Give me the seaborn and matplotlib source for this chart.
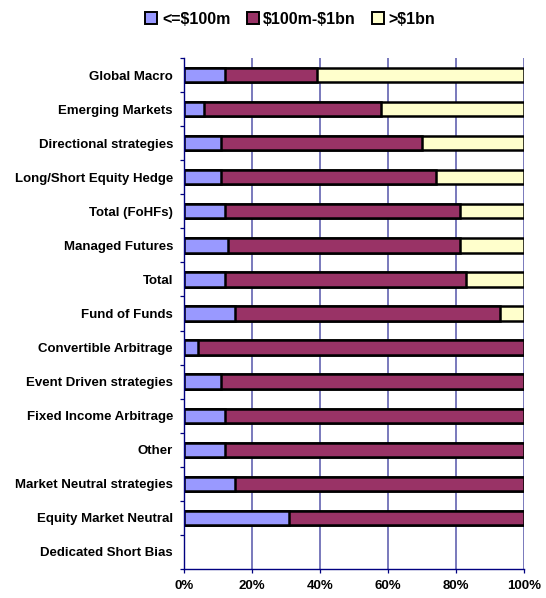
import numpy as np
import pandas as pd
import matplotlib
matplotlib.use("Agg")
import matplotlib.pyplot as plt
from matplotlib.patches import Patch
import seaborn as sns

categories = [
    "Global Macro", "Emerging Markets", "Directional strategies",
    "Long/Short Equity Hedge", "Total (FoHFs)", "Managed Futures", "Total",
    "Fund of Funds", "Convertible Arbitrage", "Event Driven strategies",
    "Fixed Income Arbitrage", "Other", "Market Neutral strategies",
    "Equity Market Neutral", "Dedicated Short Bias",
]
small = [12, 6, 11, 11, 12, 13, 12, 15, 4, 11, 12, 12, 15, 31, None]
mid = [27, 52, 59, 63, 69, 68, 71, 78, 96, 89, 88, 88, 85, 69, None]
large = [61, 42, 30, 26, 19, 19, 17, 7, 0, 0, 0, 0, 0, 0, None]
series_names = ["<=$100m", "$100m-$1bn", ">$1bn"]
colors = ["#9999FF", "#993366", "#FFFFCC"]
xticks = [0, 20, 40, 60, 80, 100]

df = pd.DataFrame({"category": categories, "small": small, "mid": mid, "large": large})
df = df.dropna().copy()
df["c1"] = df["small"]
df["c2"] = df["small"] + df["mid"]
df["c3"] = df["small"] + df["mid"] + df["large"]

sns.set_theme(style="white")
plt.rcParams["font.family"] = ["Liberation Sans", "DejaVu Sans"]
plt.rcParams["font.weight"] = "bold"
plt.rcParams["text.parse_math"] = False
plt.rcParams["text.color"] = "black"
plt.rcParams["xtick.labelcolor"] = "black"
plt.rcParams["ytick.labelcolor"] = "black"

fig = plt.figure(figsize=(5.46, 5.98), dpi=100)
ax = fig.add_axes([0.337, 0.0485, 0.623, 0.8545])

grid_col = "#5555AA"
axis_col = "#000080"
for x in xticks[1:]:
    ax.axvline(x, color=grid_col, lw=1.1, zorder=0)

bar_kw = dict(orient="h", order=categories, width=0.42, edgecolor="black",
              linewidth=1.8, ax=ax, zorder=2)
sns.barplot(data=df, x="c3", y="category", color=colors[2], **bar_kw)
sns.barplot(data=df, x="c2", y="category", color=colors[1], **bar_kw)
sns.barplot(data=df, x="c1", y="category", color=colors[0], **bar_kw)

# seaborn may desaturate; force exact fills
n = len(df)
for i, p in enumerate(ax.patches):
    p.set_facecolor(colors[2 - i // n])

ax.set_xlim(0, 100)
ax.set_ylim(len(categories) - 0.5, -0.5)
ax.set_xticks(xticks)
ax.set_xticklabels([f"{v}%" for v in xticks], fontsize=9.5, fontweight="bold")
ax.set_yticks(range(len(categories)))
ax.set_yticklabels(categories, fontsize=9.5, fontweight="bold")
ax.set_yticks(np.arange(-0.5, len(categories), 1), minor=True)
ax.tick_params(axis="y", which="major", length=0, pad=8)
ax.tick_params(axis="y", which="minor", length=3, width=0.9, color=axis_col, left=True)
ax.tick_params(axis="x", which="major", length=3, width=0.9, color=axis_col, bottom=True, pad=5)
ax.set_xlabel("")
ax.set_ylabel("")

for s in ["top", "right"]:
    ax.spines[s].set_visible(False)
for s in ["left", "bottom"]:
    ax.spines[s].set_color(axis_col)
    ax.spines[s].set_linewidth(1.0)

handles = [Patch(facecolor=c, edgecolor="black", linewidth=1.4) for c in colors]
fig.legend(handles, series_names, loc="center", bbox_to_anchor=(0.532, 0.968),
           ncol=3, frameon=False, handlelength=0.75, handleheight=0.75,
           handletextpad=0.3, columnspacing=1.0,
           prop={"size": 11.5, "weight": "bold"})

fig.savefig("out.png", dpi=100)
